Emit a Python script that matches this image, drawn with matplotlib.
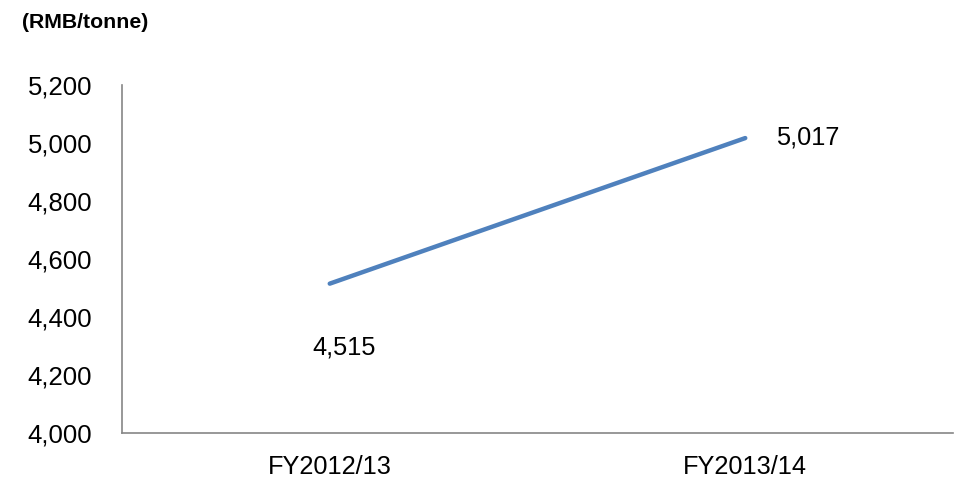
import matplotlib
matplotlib.use("Agg")
import matplotlib.pyplot as plt

categories = ["FY2012/13", "FY2013/14"]
values = [4515, 5017]
value_labels = ["4,515", "5,017"]
yticks = [4000, 4200, 4400, 4600, 4800, 5000, 5200]
ytick_labels = ["4,000", "4,200", "4,400", "4,600", "4,800", "5,000", "5,200"]
unit_label = "(RMB/tonne)"

plt.rcParams['font.family'] = ['Liberation Sans', 'DejaVu Sans']

W, H = 955, 478
fig = plt.figure(figsize=(W / 100, H / 100), dpi=100)
ax = fig.add_axes([122 / W, 1 - 433 / H, (953 - 122) / W, (433 - 85) / H])

x = list(range(len(categories)))
ax.plot(x, values, color="#4F81BD", linewidth=3.2, solid_capstyle="round")

ax.set_xlim(-0.5, len(categories) - 0.5)
ax.set_ylim(4000, 5200)
ax.set_xticks(x)
ax.set_xticklabels(categories, fontsize=18.3)
ax.set_yticks(yticks)
ax.set_yticklabels(ytick_labels, fontsize=18.5)
ax.tick_params(axis="both", length=0)
ax.tick_params(axis="y", pad=21.5)
ax.tick_params(axis="x", pad=15.5)

for s in ["top", "right"]:
    ax.spines[s].set_visible(False)
for s in ["left", "bottom"]:
    ax.spines[s].set_color("#868686")
    ax.spines[s].set_linewidth(1.2)

# data labels (offsets in points, px*0.72)
offsets = [(14 * 0.72, -64 * 0.72), (62 * 0.72, 1 * 0.72)]
for xi, v, lab, off in zip(x, values, value_labels, offsets):
    ax.annotate(lab, (xi, v), xytext=off, textcoords="offset points",
                ha="center", va="center", fontsize=18.3)

fig.text(22 / W, 1 - 22.5 / H, unit_label, fontsize=15.3, fontweight="bold",
         ha="left", va="center")

fig.savefig("out.png", dpi=100)
